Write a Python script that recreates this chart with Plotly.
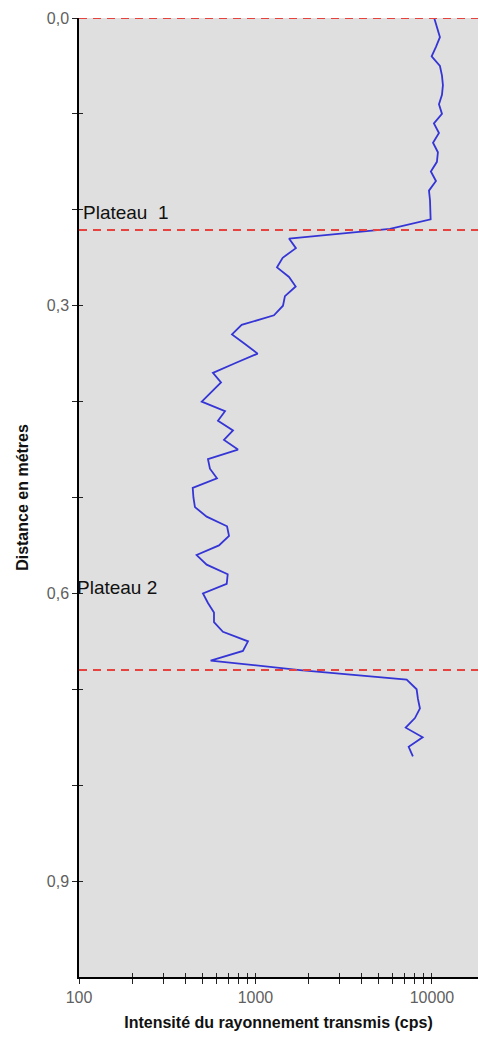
import plotly.graph_objects as go

# Depth profile (m) and transmitted radiation intensity (cps)
depth_m = [
    0.00, 0.01, 0.02, 0.03, 0.04, 0.05, 0.06, 0.07, 0.08, 0.09,
    0.10, 0.11, 0.12, 0.13, 0.14, 0.15, 0.16, 0.17, 0.18, 0.19,
    0.20, 0.21, 0.22, 0.23, 0.24, 0.25, 0.26, 0.27, 0.28, 0.29,
    0.30, 0.31, 0.32, 0.33, 0.34, 0.35, 0.36, 0.37, 0.38, 0.39,
    0.40, 0.41, 0.42, 0.43, 0.44, 0.45, 0.46, 0.47, 0.48, 0.49,
    0.50, 0.51, 0.52, 0.53, 0.54, 0.55, 0.56, 0.57, 0.58, 0.59,
    0.60, 0.61, 0.62, 0.63, 0.64, 0.65, 0.66, 0.67, 0.68, 0.69,
    0.70, 0.71, 0.72, 0.73, 0.74, 0.75, 0.76, 0.77,
]
intensity_cps = [
    10300, 10670, 11100, 10540, 9960, 11100, 11400, 11540, 11400, 10960,
    11400, 10260, 10960, 10140, 10810, 10670, 9860, 10540, 9620, 9750,
    9830, 9830, 5780, 1549, 1695, 1426, 1324, 1549, 1690, 1469,
    1432, 1273, 835, 736, 872, 1029, 765, 574, 638, 560,
    496, 672, 613, 746, 663, 796, 538, 552, 605, 441,
    445, 454, 529, 690, 708, 621, 464, 529, 696, 687,
    504, 538, 582, 582, 654, 907, 849, 557, 1787, 7190,
    8190, 8330, 8550, 8010, 7100, 8860, 7380, 7800,
]

# Boundaries drawn as dashed horizontal lines
boundary_depths = [0.0, 0.221, 0.680]

# Plateau labels
plateau_labels = ["Plateau  1", "Plateau 2"]
plateau_depths = [0.203, 0.594]
plateau_xpaper = [0.004, -0.010]

x_major = [100, 1000, 10000]
x_minor = [200, 300, 400, 500, 600, 700, 800, 900,
           2000, 3000, 4000, 5000, 6000, 7000, 8000, 9000]
y_ticks = [0.0, 0.3, 0.6, 0.9]
y_minor = [0.1, 0.2, 0.4, 0.5, 0.7, 0.8]

X_RANGE = [2.0, 4.261]
Y_RANGE = [1.0, 0.0]

fig = go.Figure()

fig.add_trace(go.Scatter(
    x=intensity_cps, y=depth_m, mode="lines",
    line=dict(color="#3535D6", width=1.8),
    showlegend=False, hoverinfo="skip",
))

for d in boundary_depths:
    fig.add_trace(go.Scatter(
        x=[10 ** X_RANGE[0], 10 ** X_RANGE[1]], y=[d, d], mode="lines",
        line=dict(color="#E8423E", width=2, dash="8px,6px"),
        showlegend=False, hoverinfo="skip",
    ))

# invisible trace registering the overlay axes used for the inner half of the ticks
fig.add_trace(go.Scatter(x=[], y=[], xaxis="x2", yaxis="y2",
                         showlegend=False, hoverinfo="skip"))

for label, d, xp in zip(plateau_labels, plateau_depths, plateau_xpaper):
    fig.add_annotation(
        text=label, x=xp, xref="paper", y=d, yref="y",
        xanchor="left", yanchor="middle", showarrow=False,
        font=dict(family="Liberation Sans, Arial", size=19, color="#111111"),
    )

tick_font = dict(family="Liberation Sans, Arial", size=16, color="#5f5f5f")
title_font = dict(family="Liberation Sans, Arial", size=16, color="#111111")

fig.update_layout(
    width=478, height=1040,
    margin=dict(l=79, r=0, t=18, b=63),
    paper_bgcolor="white",
    plot_bgcolor="#DFDFDF",
    separators=", ",
    xaxis=dict(
        type="log", range=X_RANGE,
        tickvals=x_major, ticktext=[str(v) for v in x_major],
        ticks="outside", ticklen=5, tickcolor="#222", tickwidth=1,
        minor=dict(tickvals=x_minor, ticks="outside", ticklen=5,
                   tickcolor="#222", showgrid=False),
        showgrid=False, zeroline=False,
        showline=True, linecolor="black", linewidth=1.5,
        tickfont=tick_font,
        title=dict(text="<b>Intensité du rayonnement transmis (cps)</b>",
                   font=title_font, standoff=12),
    ),
    yaxis=dict(
        range=Y_RANGE,
        tickvals=y_ticks, tickformat=".1f",
        ticks="outside", ticklen=5, tickcolor="#222", tickwidth=1,
        minor=dict(tickvals=y_minor, ticks="outside", ticklen=5,
                   tickcolor="#222", showgrid=False),
        showgrid=False, zeroline=False,
        showline=True, linecolor="black", linewidth=1.5,
        tickfont=tick_font,
        title=dict(text="<b>Distance en métres</b>", font=title_font, standoff=14),
    ),
    xaxis2=dict(
        type="log", range=X_RANGE, overlaying="x", anchor="y", side="bottom",
        tickvals=x_major, showticklabels=False,
        ticks="inside", ticklen=4, tickcolor="#222",
        minor=dict(tickvals=x_minor, ticks="inside", ticklen=4, tickcolor="#222"),
        showgrid=False, zeroline=False, showline=False,
    ),
    yaxis2=dict(
        range=Y_RANGE, overlaying="y", anchor="x", side="left",
        tickvals=y_ticks, showticklabels=False,
        ticks="inside", ticklen=4, tickcolor="#222",
        minor=dict(tickvals=y_minor, ticks="inside", ticklen=4, tickcolor="#222"),
        showgrid=False, zeroline=False, showline=False,
    ),
)

fig.write_html("out.html")
